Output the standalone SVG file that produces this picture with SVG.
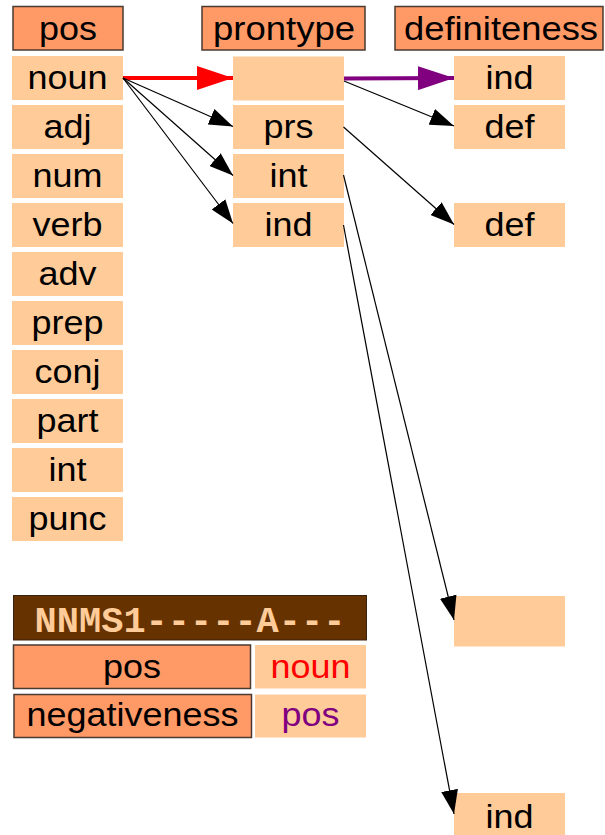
<svg xmlns="http://www.w3.org/2000/svg" width="605" height="835" viewBox="0 0 605 835">
  <style>
    .hdr { fill: #FF9966; stroke: #4a3a30; stroke-width: 1.5; }
    .val { fill: #FFCC99; }
    .tag { fill: #663300; stroke: #3a2210; stroke-width: 1; }
    .lbl { font-family: "Liberation Sans", Arial, sans-serif; font-size: 34px; fill: #000; text-anchor: middle; }
    .code { font-family: "Liberation Mono", "Courier New", monospace; font-weight: bold; font-size: 37px; fill: #FFCC99; text-anchor: middle; }
    .edge { fill: none; stroke: #000; stroke-width: 1.2; }
  </style>
  <defs>
    <marker id="headBlack" markerUnits="userSpaceOnUse" markerWidth="24" markerHeight="17" refX="24" refY="8.5" orient="auto">
      <path d="M0,0 L24,8.5 L0,17 z" fill="#000"/>
    </marker>
    <marker id="headRed" markerUnits="userSpaceOnUse" markerWidth="36" markerHeight="24" refX="36" refY="12" orient="auto">
      <path d="M0,0 L36,12 L0,24 z" fill="#FF0000"/>
    </marker>
    <marker id="headPurple" markerUnits="userSpaceOnUse" markerWidth="36" markerHeight="24" refX="36" refY="12" orient="auto">
      <path d="M0,0 L36,12 L0,24 z" fill="#800080"/>
    </marker>
  </defs>

  <!-- column headers -->
  <g id="hdr-pos"><rect class="hdr" x="13" y="6.5" width="110" height="43.5"/><text class="lbl" x="68" y="40" textLength="58" lengthAdjust="spacingAndGlyphs">pos</text></g>
  <g id="hdr-prontype"><rect class="hdr" x="202" y="6.5" width="163" height="43.5"/><text class="lbl" x="284" y="40" textLength="142" lengthAdjust="spacingAndGlyphs">prontype</text></g>
  <g id="hdr-definiteness"><rect class="hdr" x="395" y="6.5" width="208" height="43.5"/><text class="lbl" x="501" y="40" textLength="194" lengthAdjust="spacingAndGlyphs">definiteness</text></g>

  <!-- pos values -->
  <g id="pos-noun"><rect class="val" x="12" y="56" width="111" height="44"/><text class="lbl" x="67.5" y="88.5" textLength="80" lengthAdjust="spacingAndGlyphs">noun</text></g>
  <g id="pos-adj"><rect class="val" x="12" y="105" width="111" height="44"/><text class="lbl" x="67.5" y="137.5" textLength="48" lengthAdjust="spacingAndGlyphs">adj</text></g>
  <g id="pos-num"><rect class="val" x="12" y="154" width="111" height="44"/><text class="lbl" x="67.5" y="186.5" textLength="70" lengthAdjust="spacingAndGlyphs">num</text></g>
  <g id="pos-verb"><rect class="val" x="12" y="203" width="111" height="44"/><text class="lbl" x="67.5" y="235.5" textLength="70" lengthAdjust="spacingAndGlyphs">verb</text></g>
  <g id="pos-adv"><rect class="val" x="12" y="252" width="111" height="44"/><text class="lbl" x="67.5" y="284.5" textLength="58" lengthAdjust="spacingAndGlyphs">adv</text></g>
  <g id="pos-prep"><rect class="val" x="12" y="301" width="111" height="44"/><text class="lbl" x="67.5" y="333.5" textLength="72" lengthAdjust="spacingAndGlyphs">prep</text></g>
  <g id="pos-conj"><rect class="val" x="12" y="350" width="111" height="44"/><text class="lbl" x="67.5" y="382.5" textLength="66" lengthAdjust="spacingAndGlyphs">conj</text></g>
  <g id="pos-part"><rect class="val" x="12" y="399" width="111" height="44"/><text class="lbl" x="67.5" y="431.5" textLength="62" lengthAdjust="spacingAndGlyphs">part</text></g>
  <g id="pos-int"><rect class="val" x="12" y="448" width="111" height="44"/><text class="lbl" x="67.5" y="480.5" textLength="38" lengthAdjust="spacingAndGlyphs">int</text></g>
  <g id="pos-punc"><rect class="val" x="12" y="497" width="111" height="44"/><text class="lbl" x="67.5" y="529.5" textLength="78" lengthAdjust="spacingAndGlyphs">punc</text></g>

  <!-- prontype values -->
  <g id="pt-empty"><rect class="val" x="233" y="56.5" width="111" height="44"/></g>
  <g id="pt-prs"><rect class="val" x="233" y="105" width="111" height="44"/><text class="lbl" x="288.5" y="137.5" textLength="50" lengthAdjust="spacingAndGlyphs">prs</text></g>
  <g id="pt-int"><rect class="val" x="233" y="154" width="111" height="44"/><text class="lbl" x="288.5" y="186.5" textLength="38" lengthAdjust="spacingAndGlyphs">int</text></g>
  <g id="pt-ind"><rect class="val" x="233" y="203" width="111" height="44"/><text class="lbl" x="288.5" y="235.5" textLength="48" lengthAdjust="spacingAndGlyphs">ind</text></g>

  <!-- definiteness values -->
  <g id="def-ind"><rect class="val" x="454" y="56" width="111" height="44"/><text class="lbl" x="509.5" y="88.5" textLength="48" lengthAdjust="spacingAndGlyphs">ind</text></g>
  <g id="def-def1"><rect class="val" x="454" y="105" width="111" height="44"/><text class="lbl" x="509.5" y="137.5" textLength="50" lengthAdjust="spacingAndGlyphs">def</text></g>
  <g id="def-def2"><rect class="val" x="454" y="203" width="111" height="44"/><text class="lbl" x="509.5" y="235.5" textLength="50" lengthAdjust="spacingAndGlyphs">def</text></g>
  <g id="def-empty"><rect class="val" x="454" y="596" width="111" height="50.5"/></g>
  <g id="def-ind2"><rect class="val" x="454" y="793" width="111" height="50"/><text class="lbl" x="509.5" y="827.5" textLength="48" lengthAdjust="spacingAndGlyphs">ind</text></g>

  <!-- tag legend -->
  <g id="tag-code"><rect class="tag" x="13.5" y="595.5" width="353" height="44.5"/><text class="code" x="190" y="632">NNMS1-----A---</text></g>
  <g id="legend-pos"><rect class="hdr" x="13.5" y="645" width="237" height="43.5"/><text class="lbl" x="132" y="677.5" textLength="58" lengthAdjust="spacingAndGlyphs">pos</text></g>
  <g id="legend-noun"><rect class="val" x="255" y="645" width="111" height="43.5"/><text class="lbl" x="310.5" y="677.5" textLength="80" lengthAdjust="spacingAndGlyphs" style="fill:#FF0000">noun</text></g>
  <g id="legend-negativeness"><rect class="hdr" x="14" y="694.5" width="237.5" height="43"/><text class="lbl" x="132.5" y="726" textLength="212" lengthAdjust="spacingAndGlyphs">negativeness</text></g>
  <g id="legend-pos-value"><rect class="val" x="255" y="694.5" width="111" height="43"/><text class="lbl" x="310.5" y="726" textLength="58" lengthAdjust="spacingAndGlyphs" style="fill:#800080">pos</text></g>

  <!-- connectors -->
  <g id="connectors">
    <line x1="123" y1="78" x2="233" y2="78" stroke="#FF0000" stroke-width="4" marker-end="url(#headRed)"/>
    <line class="edge" x1="123" y1="78" x2="233" y2="126.5" marker-end="url(#headBlack)"/>
    <line class="edge" x1="123" y1="78" x2="233" y2="175.5" marker-end="url(#headBlack)"/>
    <line class="edge" x1="123" y1="78" x2="233" y2="223.5" marker-end="url(#headBlack)"/>
    <line x1="344" y1="78.5" x2="454" y2="78" stroke="#800080" stroke-width="4" marker-end="url(#headPurple)"/>
    <line class="edge" x1="344" y1="81" x2="454" y2="126" marker-end="url(#headBlack)"/>
    <line class="edge" x1="343.5" y1="127" x2="454" y2="224.5" marker-end="url(#headBlack)"/>
    <line class="edge" x1="343.5" y1="175" x2="454" y2="620" marker-end="url(#headBlack)"/>
    <line class="edge" x1="343.5" y1="225" x2="454" y2="814" marker-end="url(#headBlack)"/>
  </g>
</svg>
